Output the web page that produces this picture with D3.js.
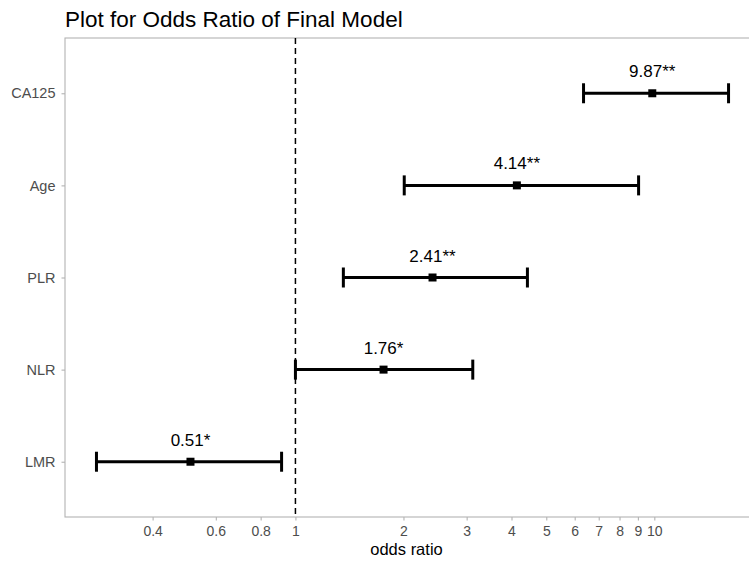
<!DOCTYPE html>
<html><head><meta charset="utf-8">
<script src="https://cdn.jsdelivr.net/npm/d3@7"></script>
<style>
html,body{margin:0;padding:0;background:#fff;}
text{font-family:"Liberation Sans",Arial,Helvetica,sans-serif;}
</style></head>
<body><svg id="c" width="749" height="562"></svg>
<script>
const categories = ["CA125","Age","PLR","NLR","LMR"];
const oddsRatio = [9.87, 4.14, 2.41, 1.76, 0.51];
const lowerCI = [6.35, 2.01, 1.36, 1.0, 0.279];
const upperCI = [16.1, 9.04, 4.43, 3.12, 0.915];
const labels = ["9.87**","4.14**","2.41**","1.76*","0.51*"];
const xTicks = [0.4,0.6,0.8,1,2,3,4,5,6,7,8,9,10];

const svg = d3.select("#c");
const pLeft = 65, pRight = 760, pTop = 38, pBottom = 517;

const x = d3.scaleLog().domain([0.228, 19.7]).range([pLeft, pRight]);
const y = d3.scalePoint().domain(categories).range([pTop, pBottom]).padding(0.6);

// panel border
svg.append("rect").attr("x", pLeft).attr("y", pTop).attr("width", pRight-pLeft).attr("height", pBottom-pTop)
  .attr("fill","none").attr("stroke","#b3b3b3").attr("stroke-width",1.1);

// title
svg.append("text").attr("x", pLeft).attr("y", 27).attr("font-size", 22.5).attr("fill","#000")
  .text("Plot for Odds Ratio of Final Model");

// x axis
const xAxis = svg.append("g").attr("transform", `translate(0,${pBottom})`)
  .call(d3.axisBottom(x).tickValues(xTicks).tickFormat(d => String(d)).tickSize(3.5).tickPadding(6));
xAxis.select(".domain").remove();
xAxis.selectAll(".tick line").attr("stroke","#b3b3b3").attr("stroke-width",1.1);
xAxis.selectAll(".tick text").attr("fill","#4d4d4d").attr("font-size",14).attr("font-family","Liberation Sans, Arial, sans-serif");

svg.append("text").attr("x", (pLeft+748)/2).attr("y", 555).attr("text-anchor","middle")
  .attr("font-size",16.5).attr("fill","#000").text("odds ratio");

// y axis
const yAxis = svg.append("g").attr("transform", `translate(${pLeft},0)`)
  .call(d3.axisLeft(y).tickSize(3.5).tickPadding(6));
yAxis.select(".domain").remove();
yAxis.selectAll(".tick line").attr("stroke","#b3b3b3").attr("stroke-width",1.1);
yAxis.selectAll(".tick text").attr("fill","#4d4d4d").attr("font-size",14.5).attr("font-family","Liberation Sans, Arial, sans-serif");

// reference line
svg.append("line").attr("x1", x(1)).attr("x2", x(1)).attr("y1", pTop).attr("y2", pBottom)
  .attr("stroke","#000").attr("stroke-width",1.5).attr("stroke-dasharray","6,4");

const rows = categories.map((c,i)=>({c, or:oddsRatio[i], lo:lowerCI[i], hi:upperCI[i], lab:labels[i]}));
const g = svg.append("g");
rows.forEach(r => {
  const yy = y(r.c);
  g.append("line").attr("x1", x(r.lo)).attr("x2", x(r.hi)).attr("y1", yy).attr("y2", yy)
    .attr("stroke","#000").attr("stroke-width",3);
  [r.lo, r.hi].forEach(v => {
    g.append("line").attr("x1", x(v)).attr("x2", x(v)).attr("y1", yy-10).attr("y2", yy+10)
      .attr("stroke","#000").attr("stroke-width",3);
  });
  g.append("rect").attr("x", x(r.or)-4).attr("y", yy-4).attr("width",8).attr("height",8).attr("fill","#000");
  g.append("text").attr("x", x(r.or)).attr("y", yy-16).attr("text-anchor","middle")
    .attr("font-size",17).attr("fill","#000").text(r.lab);
});
</script></body></html>
